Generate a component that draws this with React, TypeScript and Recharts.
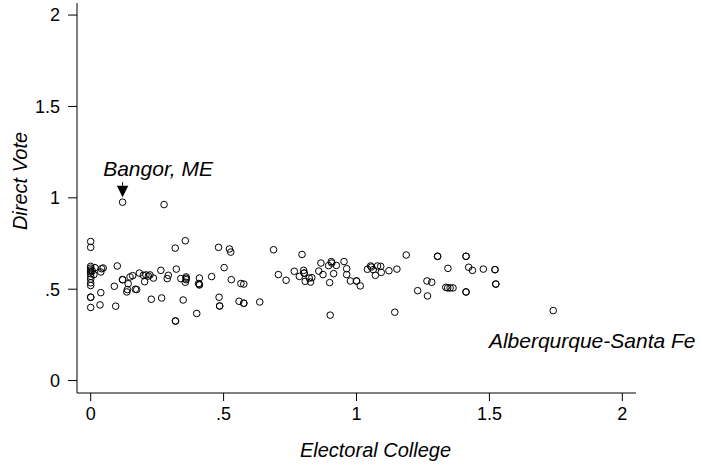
import React from 'react';
import {
  ScatterChart,
  Scatter,
  XAxis,
  YAxis,
  ReferenceDot,
} from 'recharts';

// Electoral College weight (x) and Direct Vote weight (y) for each market
const electoralCollege: number[] = [
  0.12, 0.276, 0, 0, 0.356, 0.318, 0.481, 0.522, 0.527, 0.688,
  0, 0, 0, 0, 0, 0, 0, 0, 0, 0.006, 0.012,
  0.016, 0.041, 0.047, 0.038, 0.1, 0.089, 0.038, 0, 0, 0, 0.035, 0.094,
  0.12, 0.12, 0.141, 0.138, 0.136, 0.173, 0.168, 0.148, 0.158,
  0.183, 0.198, 0.208, 0.217, 0.223, 0.203, 0.236, 0.264, 0.292, 0.288,
  0.322, 0.339, 0.359, 0.359, 0.356, 0.359, 0.409, 0.406, 0.409, 0.409,
  0.455, 0.502, 0.529, 0.565, 0.576, 0.228, 0.267, 0.348, 0.319, 0.319,
  0.399, 0.483, 0.485, 0.485, 0.558, 0.576, 0.576, 0.636, 0.706,
  0.795, 0.735, 0.766, 0.785, 0.801, 0.803, 0.803, 0.807, 0.822, 0.827, 0.832,
  0.858, 0.866, 0.874, 0.899, 0.905, 0.907, 0.895, 0.924, 0.914, 0.953,
  0.963, 0.963, 0.977, 1.0, 1.0, 1.014, 0.901, 1.041, 1.053, 1.056, 1.063,
  1.071, 1.079, 1.091, 1.093, 1.122, 1.152, 1.187, 1.144, 1.23, 1.265, 1.283,
  1.267, 1.305, 1.305, 1.344, 1.336, 1.343, 1.352, 1.363,
  1.412, 1.412, 1.422, 1.436, 1.477, 1.521, 1.521, 1.412, 1.412, 1.524, 1.524,
  1.74,
];

const directVote: number[] = [
  0.976, 0.963, 0.761, 0.729, 0.765, 0.725, 0.729, 0.72, 0.703, 0.716,
  0.625, 0.615, 0.605, 0.595, 0.585, 0.57, 0.555, 0.535, 0.52, 0.6, 0.58,
  0.618, 0.612, 0.616, 0.594, 0.627, 0.516, 0.481, 0.456, 0.456, 0.4, 0.414, 0.407,
  0.552, 0.552, 0.53, 0.498, 0.485, 0.498, 0.5, 0.567, 0.574,
  0.588, 0.576, 0.578, 0.572, 0.578, 0.541, 0.561, 0.603, 0.576, 0.558,
  0.61, 0.558, 0.567, 0.552, 0.538, 0.56, 0.561, 0.531, 0.523, 0.527,
  0.569, 0.618, 0.552, 0.531, 0.528, 0.445, 0.452, 0.441, 0.326, 0.326,
  0.367, 0.456, 0.408, 0.408, 0.434, 0.423, 0.423, 0.43, 0.58,
  0.69, 0.549, 0.598, 0.57, 0.603, 0.588, 0.588, 0.543, 0.561, 0.539, 0.563,
  0.599, 0.643, 0.58, 0.536, 0.651, 0.643, 0.629, 0.63, 0.585, 0.651,
  0.612, 0.58, 0.545, 0.545, 0.545, 0.518, 0.358, 0.609, 0.627, 0.621, 0.607,
  0.576, 0.627, 0.625, 0.592, 0.601, 0.61, 0.687, 0.374, 0.492, 0.545, 0.538,
  0.463, 0.68, 0.68, 0.614, 0.51, 0.507, 0.507, 0.507,
  0.68, 0.68, 0.62, 0.603, 0.61, 0.607, 0.607, 0.485, 0.485, 0.528, 0.528,
  0.383,
];

const axisTicks: number[] = [0, 0.5, 1, 1.5, 2];
const tickLabels: string[] = ['0', '.5', '1', '1.5', '2'];

// Labelled markets
const bangor = { name: 'Bangor, ME', x: 0.12, y: 0.976 };
const albuquerque = { name: 'Alberqurque-Santa Fe', x: 1.74, y: 0.383 };

const points = electoralCollege.map((x, i) => ({ x, y: directVote[i] }));

const FONT = '"Liberation Sans", Arial, Helvetica, sans-serif';

const formatTick = (v: number) => {
  const i = axisTicks.indexOf(v);
  return i >= 0 ? tickLabels[i] : String(v);
};

const HollowCircle = (props: any) => {
  const { cx, cy } = props;
  if (cx == null || cy == null) return null;
  return <circle cx={cx} cy={cy} r={3.3} fill="none" stroke="#000" strokeWidth={1} />;
};

const BangorMarker = (props: any) => {
  const { cx, cy } = props;
  return (
    <g>
      <line x1={cx} y1={cy - 20} x2={cx} y2={cy - 16.5} stroke="#000" strokeWidth={1} />
      <polygon
        points={`${cx - 5.7},${cy - 16.5} ${cx + 5.7},${cy - 16.5} ${cx},${cy - 5}`}
        fill="#000"
      />
      <text
        x={cx - 19.4}
        y={cy - 26.7}
        fontFamily={FONT}
        fontStyle="italic"
        fontSize={21}
        fill="#000"
      >
        {bangor.name}
      </text>
    </g>
  );
};

const AlbuquerqueMarker = (props: any) => {
  const { cx, cy } = props;
  return (
    <text
      x={cx + 39}
      y={cy + 37.7}
      textAnchor="middle"
      fontFamily={FONT}
      fontStyle="italic"
      fontSize={21}
      fill="#000"
    >
      {albuquerque.name}
    </text>
  );
};

const XTitle = (props: any) => {
  const { x, y, width } = props.viewBox;
  return (
    <text
      x={x + width / 2 + 19}
      y={y + 64}
      textAnchor="middle"
      fontFamily={FONT}
      fontStyle="italic"
      fontSize={20}
      fill="#000"
    >
      Electoral College
    </text>
  );
};

const YTitle = (props: any) => {
  const { y, height } = props.viewBox;
  const cy = y + height / 2 - 17;
  return (
    <text
      x={27}
      y={cy}
      transform={`rotate(-90, 27, ${cy})`}
      textAnchor="middle"
      fontFamily={FONT}
      fontStyle="italic"
      fontSize={20}
      fill="#000"
    >
      Direct Vote
    </text>
  );
};

export default function App() {
  return (
    <div style={{ position: 'absolute', left: 0, top: 0, background: '#fff' }}>
      <ScatterChart
        width={702}
        height={465}
        margin={{ top: 3, right: 66, bottom: 0, left: 0 }}
      >
        <XAxis
          type="number"
          dataKey="x"
          domain={[-0.0515, 2.0514]}
          allowDataOverflow
          ticks={axisTicks}
          interval={0}
          tickFormatter={formatTick}
          height={72}
          tickSize={8}
          tickMargin={6}
          axisLine={{ stroke: '#000', strokeWidth: 1 }}
          tickLine={{ stroke: '#000', strokeWidth: 1 }}
          tick={{ fill: '#000', fontSize: 18, fontFamily: FONT }}
          label={{ content: XTitle }}
        />
        <YAxis
          type="number"
          dataKey="y"
          domain={[-0.068, 2.066]}
          allowDataOverflow
          ticks={axisTicks}
          interval={0}
          tickFormatter={formatTick}
          width={77}
          tickSize={9}
          tickMargin={8}
          axisLine={{ stroke: '#000', strokeWidth: 1 }}
          tickLine={{ stroke: '#000', strokeWidth: 1 }}
          tick={{ fill: '#000', fontSize: 18, fontFamily: FONT }}
          label={{ content: YTitle }}
        />
        <Scatter data={points} shape={HollowCircle} isAnimationActive={false} />
        <ReferenceDot x={bangor.x} y={bangor.y} shape={BangorMarker} />
        <ReferenceDot x={albuquerque.x} y={albuquerque.y} shape={AlbuquerqueMarker} />
      </ScatterChart>
    </div>
  );
}
